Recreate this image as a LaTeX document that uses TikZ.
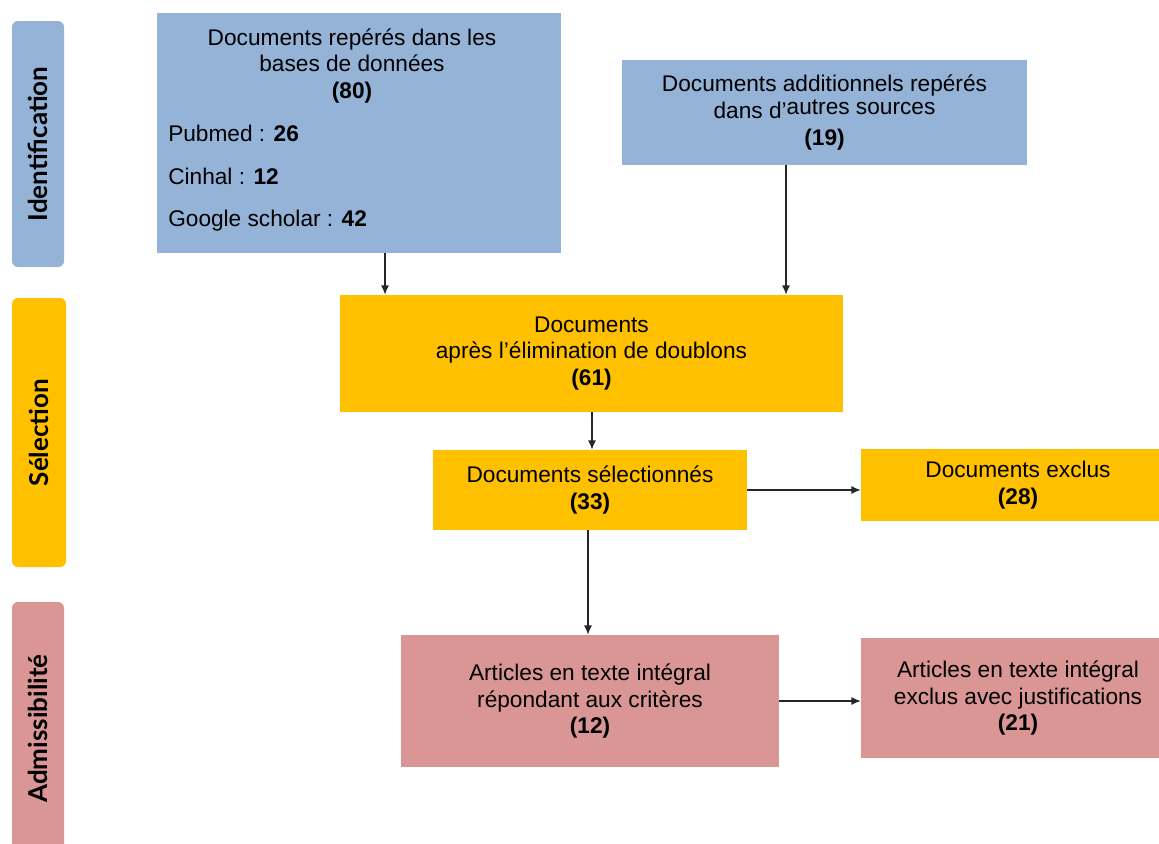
\documentclass[tikz,border=0pt]{standalone}
\usepackage{fontspec}
\setmainfont{Liberation Sans}
\newfontfamily\sidefont{Lato}
\usetikzlibrary{arrows.meta}
\definecolor{idblue}{HTML}{95B3D7}
\definecolor{selyellow}{HTML}{FFC000}
\definecolor{admpink}{HTML}{D99694}

\begin{document}
\begin{tikzpicture}[x=0.75pt, y=-0.75pt,
  box/.style={rectangle, inner sep=0pt, align=center,
    font=\fontsize{17}{20}\selectfont},
  bar/.style={rectangle, rounded corners=4.5pt, rotate=90,
    font=\sidefont\bfseries\fontsize{19.5}{24}\selectfont},
  arr/.style={-{Latex[length=7pt,width=6pt]}, line width=0.9pt, black!85}]
  \useasboundingbox (0,0) rectangle (1159,843);
  % Phase bars
  \node[bar, fill=idblue, minimum width=184.5pt, minimum height=39pt]
    (ident) at (38,144) {Identification};
  \node[bar, fill=selyellow, minimum width=201.75pt, minimum height=40.5pt]
    (sel) at (39,432.5) {Sélection};
  \node[bar, fill=admpink, minimum width=189.75pt, minimum height=39pt]
    (adm) at (38,728.5) {Admissibilité};
  % Identification
  \node[box, fill=idblue, minimum width=303pt, minimum height=180pt]
    (db) at (359,133) {};
  \node[box] (dbhead) at (352,66)
    {Documents repérés dans les\\ bases de données\\ \textbf{(80)}};
  \node[box, anchor=base west] (pubmed) at (168,141) {Pubmed : \textbf{26}};
  \node[box, anchor=base west] (cinhal) at (168,184) {Cinhal : \textbf{12}};
  \node[box, anchor=base west] (google) at (168,226) {Google scholar : \textbf{42}};
  \node[box, fill=idblue, minimum width=303.75pt, minimum height=78.75pt]
    (extra) at (824.5,112.5)
    {Documents additionnels repérés\\ dans d'\raisebox{3pt}{autres sources}\\ \textbf{(19)}};
  % Selection
  \node[box, fill=selyellow, minimum width=377.25pt, minimum height=87.75pt]
    (merged) at (591.5,353.5)
    {Documents\\ après l’élimination de doublons\\ \textbf{(61)}};
  \node[box, fill=selyellow, minimum width=235.5pt, minimum height=60pt]
    (chosen) at (590,490) {Documents sélectionnés\\ \textbf{(33)}};
  \node[box, fill=selyellow, minimum width=235.5pt, minimum height=54pt]
    (excl) at (1018,485) {Documents exclus\\ \textbf{(28)}};
  % Admissibility
  \node[box, fill=admpink, minimum width=283.5pt, minimum height=99pt]
    (full) at (590,701)
    {Articles en texte intégral\\ répondant aux critères\\ \textbf{(12)}};
  \node[box, fill=admpink, minimum width=235.5pt, minimum height=90pt]
    (fullexcl) at (1018,698)
    {Articles en texte intégral\\ exclus avec justifications\\ \textbf{(21)}};
  % Arrows
  \draw[arr] (db.south -| 385,0) -- (385,0 |- merged.north);
  \draw[arr] (extra.south -| 786,0) -- (786,0 |- merged.north);
  \draw[arr] (merged.south -| 592,0) -- (592,0 |- chosen.north);
  \draw[arr] (chosen.east) -- (chosen.east -| excl.west);
  \draw[arr] (chosen.south -| 588,0) -- (588,0 |- full.north);
  \draw[arr] (full.east) -- (full.east -| fullexcl.west);
\end{tikzpicture}
\end{document}
